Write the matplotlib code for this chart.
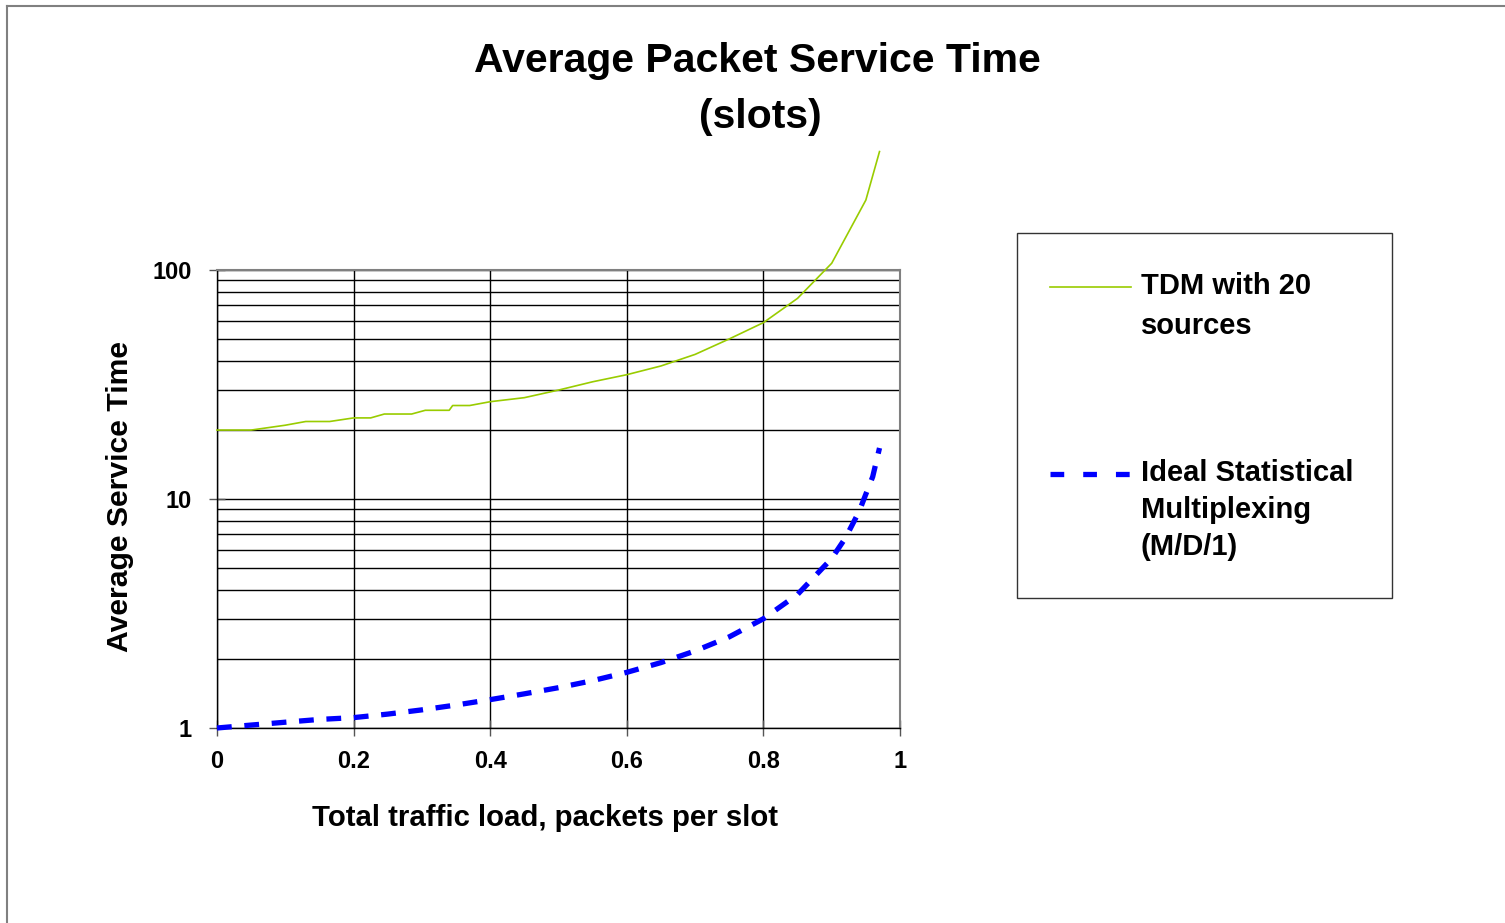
import matplotlib
matplotlib.use("Agg")
import matplotlib.pyplot as plt
from matplotlib.lines import Line2D
from matplotlib.patches import Rectangle
from matplotlib.ticker import LogLocator, FixedLocator, NullFormatter

plt.rcParams['font.family'] = ['Liberation Sans', 'DejaVu Sans']

# ---- data ----
tdm_x = [0.0, 0.05, 0.10, 0.13, 0.165, 0.20, 0.225, 0.245, 0.285, 0.305, 0.34, 0.345,
         0.37, 0.40, 0.45, 0.50, 0.55, 0.60, 0.65, 0.70, 0.75, 0.80, 0.85, 0.90, 0.95, 0.97]
tdm_y = [20.0, 20.0, 21.0, 21.8, 21.8, 22.6, 22.6, 23.5, 23.5, 24.4, 24.4, 25.6,
         25.6, 26.6, 27.7, 29.9, 32.5, 34.9, 38.1, 42.8, 50.0, 58.9, 75.2, 107.0, 202.0, 329.0]

md1_x = [0.0, 0.05, 0.10, 0.15, 0.20, 0.25, 0.30, 0.35, 0.40, 0.45, 0.50, 0.55, 0.60,
         0.65, 0.70, 0.75, 0.80, 0.85, 0.90, 0.92, 0.94, 0.95, 0.96, 0.97]
md1_y = [1.0, 1.03, 1.06, 1.09, 1.11, 1.15, 1.20, 1.26, 1.33, 1.41, 1.50, 1.61, 1.75,
         1.93, 2.17, 2.50, 3.00, 3.83, 5.50, 6.75, 8.80, 10.5, 12.5, 16.7]

x_ticks = [0, 0.2, 0.4, 0.6, 0.8, 1]
x_ticklabels = ['0', '0.2', '0.4', '0.6', '0.8', '1']
y_ticks = [1, 10, 100]
y_ticklabels = ['1', '10', '100']

title_line1 = "Average Packet Service Time"
title_line2 = "(slots)"
xlabel = "Total traffic load, packets per slot"
ylabel = "Average Service Time"
legend_tdm = "TDM with 20\nsources"
legend_md1 = "Ideal Statistical\nMultiplexing\n(M/D/1)"

W, H = 1505, 923
fig = plt.figure(figsize=(W / 100, H / 100), dpi=100)
fig.patch.set_facecolor('white')

def fx(px):
    return px / W

def fy(py):
    return 1 - py / H

ax = fig.add_axes([fx(217), fy(728), fx(900) - fx(217), fy(270) - fy(728)])
ax.set_yscale('log')
ax.set_xlim(0, 1)
ax.set_ylim(1, 100)

ax.yaxis.set_major_locator(FixedLocator(y_ticks))
ax.yaxis.set_minor_locator(LogLocator(base=10, subs=range(2, 10)))
ax.yaxis.set_minor_formatter(NullFormatter())
ax.set_yticks(y_ticks)
ax.set_yticklabels(y_ticklabels)
ax.set_xticks(x_ticks)
ax.set_xticklabels(x_ticklabels)

ax.grid(True, which='major', axis='both', color='black', linewidth=1.0)
ax.grid(True, which='minor', axis='y', color='black', linewidth=1.0)
ax.set_axisbelow(True)

ax.tick_params(axis='both', which='major', direction='inout', length=12, width=1.0,
               color='#555555', labelsize=17)
ax.tick_params(axis='y', which='minor', length=0)
for lab in ax.get_xticklabels() + ax.get_yticklabels():
    lab.set_fontweight('bold')
ax.tick_params(axis='x', pad=10)
ax.tick_params(axis='y', pad=12)

for side in ['left', 'bottom']:
    ax.spines[side].set_color('black')
    ax.spines[side].set_linewidth(1.0)
for side in ['top', 'right']:
    ax.spines[side].set_color('#808080')
    ax.spines[side].set_linewidth(1.5)

green = '#99CC00'
blue = '#0000FF'
ax.plot(tdm_x, tdm_y, color=green, linewidth=1.2, clip_on=False, zorder=5)
ax.plot(md1_x, md1_y, color=blue, linewidth=3.8, linestyle=(0, (2.8, 2.4)),
        dash_capstyle='butt', clip_on=False, zorder=6)

# titles and labels
fig.text(fx(757), fy(61), title_line1, ha='center', va='center',
         fontsize=29.5, fontweight='bold')
fig.text(fx(760), fy(117), title_line2, ha='center', va='center',
         fontsize=29.5, fontweight='bold')
fig.text(fx(545), fy(818), xlabel, ha='center', va='center',
         fontsize=21.2, fontweight='bold')
fig.text(fx(120), fy(496), ylabel, ha='center', va='center', rotation=90,
         fontsize=21.7, fontweight='bold')

# legend (manual)
fig.patches.append(Rectangle((fx(1017), fy(598)), fx(1392) - fx(1017), fy(233) - fy(598),
                             transform=fig.transFigure, fill=False,
                             edgecolor='#333333', linewidth=1.0))
fig.lines.append(Line2D([fx(1050), fx(1131)], [fy(287), fy(287)],
                        transform=fig.transFigure, color=green, linewidth=1.2))
fig.lines.append(Line2D([fx(1050), fx(1131)], [fy(474), fy(474)],
                        transform=fig.transFigure, color=blue, linewidth=3.8,
                        linestyle=(0, (2.6, 3.6)), dash_capstyle='butt'))
fig.text(fx(1141), fy(306), legend_tdm, ha='left', va='center',
         fontsize=21, fontweight='bold', linespacing=1.5)
fig.text(fx(1141), fy(510), legend_md1, ha='left', va='center',
         fontsize=21, fontweight='bold', linespacing=1.4)

# outer chart border (left and top only visible)
fig.lines.append(Line2D([fx(7), fx(7)], [fy(6), 0], transform=fig.transFigure,
                        color='#808080', linewidth=1.5))
fig.lines.append(Line2D([fx(7), 1], [fy(6), fy(6)], transform=fig.transFigure,
                        color='#808080', linewidth=1.5))

fig.savefig('out.png', dpi=100, facecolor='white')
